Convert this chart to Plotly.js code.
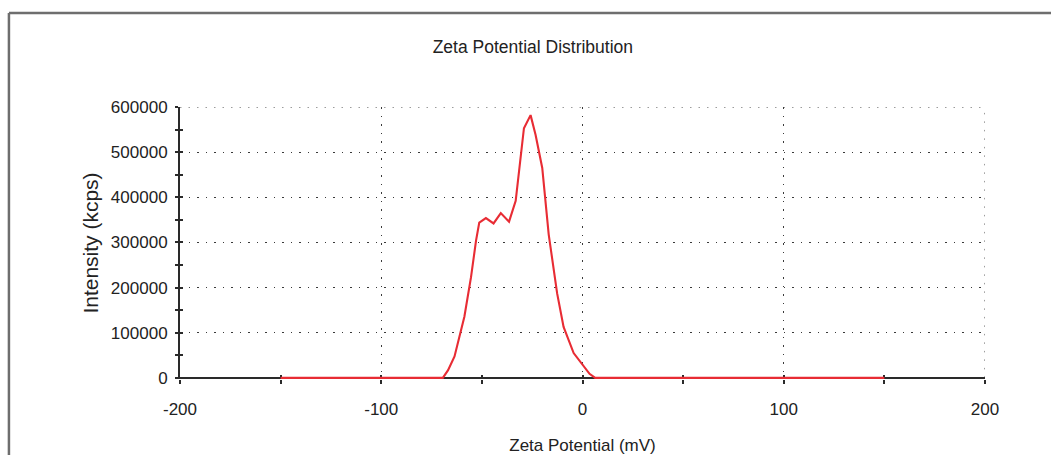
<!DOCTYPE html>
<html>
<head>
<meta charset="utf-8">
<script src="https://cdn.plot.ly/plotly-3.0.1.min.js"></script>
<style>
  html, body { margin: 0; padding: 0; background: #ffffff; }
  #chart { width: 1051px; height: 455px; }
</style>
</head>
<body>
<div id="chart"></div>
<script>
// ---- data ----
const zetaPotential = [-150, -69.4, -66.8, -63.6, -58.7, -55.4, -52.9, -51.3, -48.0, -44.2, -40.6, -36.5, -33.2, -30.7, -29.1, -25.8, -23.3, -20.0, -16.8, -12.6, -9.4, -4.4, 0.5, 3.5, 6.3, 150];
const intensity     = [0, 0, 17000, 47600, 135500, 223000, 304000, 344000, 354000, 342000, 365000, 346000, 392000, 494000, 553000, 582000, 538000, 465000, 318000, 187000, 113000, 55000, 26000, 9000, 0, 0];
const xTicks = [-200, -100, 0, 100, 200];
const yTicks = [0, 100000, 200000, 300000, 400000, 500000, 600000];

const FONT = '"Liberation Sans", Arial, sans-serif';
const AXIS = '#2a2a2a';
const GRID = '#3a3a3a';
const gridDash = '1.5px,7px';

const xMin = xTicks[0], xMax = xTicks[xTicks.length - 1];
const yMax = yTicks[yTicks.length - 1];
const yRange = [-2500, yMax];

const trace = {
  x: zetaPotential,
  y: intensity,
  type: 'scatter',
  mode: 'lines',
  line: { color: 'rgb(232,44,52)', width: 2.1 },
  hoverinfo: 'x+y',
  showlegend: false
};

const trace2 = {
  x: [zetaPotential[0]], y: [intensity[0]], xaxis: 'x2', yaxis: 'y2',
  type: 'scatter', mode: 'lines', line: { width: 0 }, hoverinfo: 'skip', showlegend: false
};

const layout = {
  width: 1051,
  height: 455,
  paper_bgcolor: '#ffffff',
  plot_bgcolor: '#ffffff',
  margin: { l: 180, r: 66, t: 107, b: 76 },
  font: { family: FONT, color: '#222', size: 17 },
  title: {
    text: 'Zeta Potential Distribution',
    font: { family: FONT, size: 17.5, color: '#222' },
    xref: 'container', yref: 'container',
    x: 0.507, xanchor: 'center',
    y: 0.897, yanchor: 'middle'
  },
  xaxis: {
    range: [xMin, xMax],
    tickvals: xTicks,
    ticktext: xTicks.map(String),
    showline: false,
    ticks: 'outside', ticklen: 4, tickwidth: 2, tickcolor: AXIS,
    minor: { dtick: 50, tick0: 0, ticks: 'outside', ticklen: 4, tickwidth: 2, tickcolor: AXIS, showgrid: false },
    ticklabelstandoff: 11,
    tickfont: { family: FONT, size: 17, color: '#222' },
    showgrid: true, gridcolor: GRID, gridwidth: 1, griddash: gridDash,
    zeroline: false,
    layer: 'below traces',
    title: { text: 'Zeta Potential (mV)', font: { family: FONT, size: 17, color: '#222' }, standoff: 20 },
    automargin: false
  },
  yaxis: {
    range: yRange,
    tickvals: yTicks,
    ticktext: yTicks.map(String),
    showline: true, linecolor: AXIS, linewidth: 2,
    ticks: 'outside', ticklen: 3, tickwidth: 2, tickcolor: AXIS,
    minor: { dtick: 50000, tick0: 0, ticks: 'outside', ticklen: 3, tickwidth: 2, tickcolor: AXIS, showgrid: false },
    ticklabelstandoff: 4,
    tickfont: { family: FONT, size: 17, color: '#222' },
    showgrid: true, gridcolor: GRID, gridwidth: 1, griddash: gridDash,
    zeroline: true, zerolinecolor: AXIS, zerolinewidth: 2,
    layer: 'below traces',
    title: { text: 'Intensity (kcps)', font: { family: FONT, size: 21, color: '#222' }, standoff: 7 },
    automargin: false
  },
  xaxis2: {
    overlaying: 'x', matches: 'x', anchor: 'y', side: 'bottom',
    range: [xMin, xMax],
    tickvals: xTicks, showticklabels: false,
    ticks: 'inside', ticklen: 4, tickwidth: 2, tickcolor: AXIS,
    minor: { dtick: 50, tick0: 0, ticks: 'inside', ticklen: 4, tickwidth: 2, tickcolor: AXIS, showgrid: false },
    showgrid: false, zeroline: false, showline: false, layer: 'below traces'
  },
  yaxis2: {
    overlaying: 'y', matches: 'y', anchor: 'x', side: 'left',
    range: yRange,
    tickvals: yTicks, showticklabels: false,
    ticks: 'inside', ticklen: 3, tickwidth: 2, tickcolor: AXIS,
    minor: { dtick: 50000, tick0: 0, ticks: 'inside', ticklen: 3, tickwidth: 2, tickcolor: AXIS, showgrid: false },
    showgrid: false, zeroline: false, showline: false, layer: 'below traces'
  },
  shapes: [
    // grid lines at the far ends of the ranges (plotly omits them)
    { type: 'line', xref: 'x', yref: 'y', x0: xMin, x1: xMax, y0: yMax, y1: yMax,
      line: { color: GRID, width: 1, dash: gridDash }, layer: 'below' },
    { type: 'line', xref: 'x', yref: 'y', x0: xMax, x1: xMax, y0: 0, y1: yMax,
      line: { color: GRID, width: 1, dash: gridDash }, layer: 'below' },
    // outer frame of the instrument report panel
    { type: 'line', xref: 'paper', yref: 'paper', x0: -0.2125, x1: 1.09, y0: 1.3456, y1: 1.3456,
      line: { color: '#6e6e6e', width: 2.5 }, layer: 'above' },
    { type: 'line', xref: 'paper', yref: 'paper', x0: -0.2125, x1: -0.2125, y0: 1.3456, y1: -0.35,
      line: { color: '#6e6e6e', width: 2.5 }, layer: 'above' }
  ]
};

Plotly.newPlot('chart', [trace, trace2], layout, { displayModeBar: false, staticPlot: true });
</script>
</body>
</html>
